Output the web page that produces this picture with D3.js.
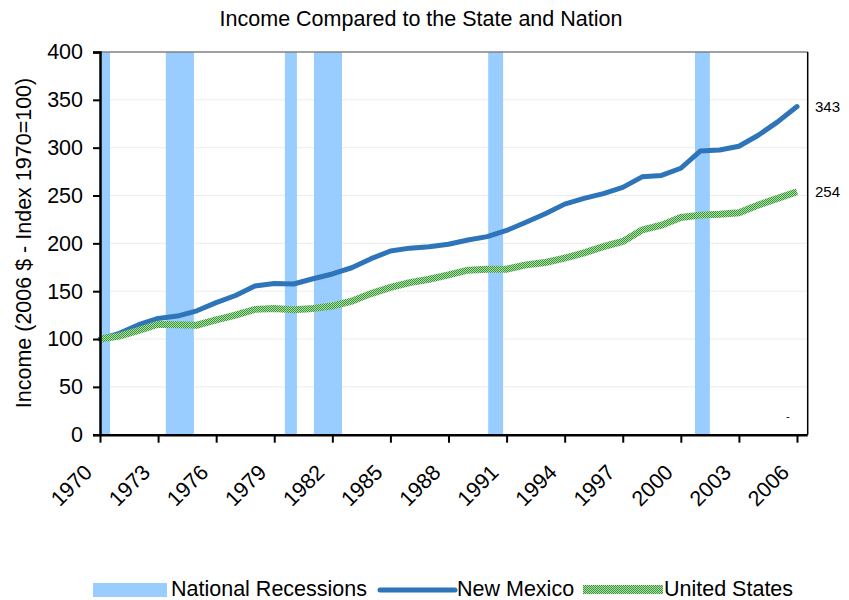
<!DOCTYPE html>
<html>
<head>
<meta charset="utf-8">
<script src="https://cdn.jsdelivr.net/npm/d3@7"></script>
<style>
  body { margin: 0; background: #fff; }
  text { font-family: "Liberation Sans", Arial, sans-serif; fill: #000; }
</style>
</head>
<body>
<svg id="chart" width="849" height="600"></svg>
<script>
// data
const years = d3.range(1970, 2007)
const newMexico = [100, 106, 115, 121.5, 124, 129.5, 138, 145.5, 155.5, 158, 157.5, 163, 168,
  174.5, 184, 192, 195, 196.5, 199, 203.5, 207, 213.5, 222, 231, 241,
  247, 252, 258.5, 269.5, 271, 278.5, 296.5, 297.5, 301.5, 313, 327, 343]
const unitedStates = [100, 103, 109, 115.5, 115, 114.5, 120, 125, 131, 132, 130.5, 132, 134.5,
  139.5, 147.5, 154, 159, 162.5, 167, 172, 173, 173, 177.5, 180, 184.5,
  190, 196.5, 202, 214, 219, 227, 229.5, 230.5, 232, 240, 247, 254]
const recStart = [1969.5, 1973.4, 1979.55, 1981.05, 1990.05, 2000.73]
const recEnd = [1970.52, 1974.85, 1980.17, 1982.5, 1990.82, 2001.5]
const yTicks = [0, 50, 100, 150, 200, 250, 300, 350, 400]
const xTicks = d3.range(1970, 2007, 3)

let svg = d3.select('#chart')
let pLeft = 100, pRight = 807.7, pTop = 52, pBottom = 434.7

let x = d3.scaleLinear().domain([1970, 2006]).range([pLeft, 797])
let y = d3.scaleLinear().domain([0, 400]).range([pBottom, pTop])

// checkered fill for the US line
let defs = svg.append('defs')
let pat = defs.append('pattern')
  .attr('id', 'usPat')
  .attr('patternUnits', 'userSpaceOnUse')
  .attr('width', 2).attr('height', 2)
pat.append('rect').attr('width', 2).attr('height', 2).attr('fill', '#b3deab')
pat.append('rect').attr('width', 1).attr('height', 1).attr('fill', '#359635')
pat.append('rect').attr('x', 1).attr('y', 1).attr('width', 1).attr('height', 1).attr('fill', '#359635')

defs.append('clipPath').attr('id', 'plotClip')
  .append('rect').attr('x', pLeft).attr('y', pTop).attr('width', pRight - pLeft).attr('height', pBottom - pTop)

// title
svg.append('text')
  .attr('x', 421).attr('y', 26)
  .attr('text-anchor', 'middle')
  .style('font-size', '21.5px')
  .text('Income Compared to the State and Nation')

// gridlines
svg.append('g')
  .selectAll('line')
  .data(yTicks.filter(d => d > 0 && d < 400))
  .enter().append('line')
  .attr('x1', pLeft).attr('x2', pRight)
  .attr('y1', d => y(d)).attr('y2', d => y(d))
  .attr('stroke', '#ececec').attr('stroke-width', 1)

// recessions
svg.append('g')
  .attr('clip-path', 'url(#plotClip)')
  .selectAll('rect')
  .data(recStart.map((s, i) => ({ s, e: recEnd[i] })))
  .enter().append('rect')
  .attr('x', d => x(d.s))
  .attr('width', d => x(d.e) - x(d.s))
  .attr('y', pTop)
  .attr('height', pBottom - pTop)
  .attr('fill', '#99ccff')

// frame
svg.append('line').attr('x1', pLeft).attr('x2', pRight).attr('y1', pTop).attr('y2', pTop)
  .attr('stroke', '#808080').attr('stroke-width', 1.5)
svg.append('line').attr('x1', pRight).attr('x2', pRight).attr('y1', pTop).attr('y2', pBottom)
  .attr('stroke', '#000').attr('stroke-width', 1.5)

let line = d3.line().x((d, i) => x(years[i])).y(d => y(d))

svg.append('path')
  .datum(newMexico)
  .attr('d', line)
  .attr('fill', 'none')
  .attr('stroke', '#2e74b8')
  .attr('stroke-width', 5)
  .attr('stroke-linejoin', 'round')
  .attr('stroke-linecap', 'round')

svg.append('path')
  .datum(unitedStates)
  .attr('d', line)
  .attr('fill', 'none')
  .attr('stroke', 'url(#usPat)')
  .attr('stroke-width', 7)

// axes
let yAxis = svg.append('g')
  .attr('transform', `translate(${pLeft},0)`)
  .call(d3.axisLeft(y).tickValues(yTicks).tickSize(7).tickPadding(10))
yAxis.select('.domain').attr('stroke', '#000').attr('stroke-width', 2.5)
yAxis.selectAll('.tick line').attr('stroke-width', 2)
yAxis.selectAll('.tick text').style('font-size', '21.5px').attr('font-family', null)

let xAxis = svg.append('g')
  .attr('transform', `translate(0,${pBottom})`)
  .call(d3.axisBottom(x).tickValues(xTicks).tickFormat(d3.format('d')).tickSize(8).tickSizeOuter(0))
xAxis.select('.domain').attr('stroke', '#000').attr('stroke-width', 2.5)
  .attr('d', `M${pLeft},0.5H${pRight}`)
xAxis.selectAll('.tick line').attr('stroke-width', 2)
xAxis.selectAll('.tick text')
  .style('font-size', '21.5px').attr('font-family', null)
  .attr('text-anchor', 'end')
  .attr('dy', null).attr('y', null)
  .attr('transform', 'translate(-7,39) rotate(-45)')

// y label
svg.append('text')
  .attr('transform', 'translate(31,243) rotate(-90)')
  .attr('text-anchor', 'middle')
  .style('font-size', '21.5px')
  .text('Income (2006 $ - Index 1970=100)')

// end labels
svg.append('text').attr('x', 815).attr('y', y(newMexico[newMexico.length - 1]) + 5)
  .style('font-size', '15px').text(newMexico[newMexico.length - 1])
svg.append('text').attr('x', 815).attr('y', y(unitedStates[unitedStates.length - 1]) + 5)
  .style('font-size', '15px').text(unitedStates[unitedStates.length - 1])
svg.append('text').attr('x', 786).attr('y', 420).style('font-size', '11px').text('-')

// legend
let lg = svg.append('g').attr('transform', 'translate(0,590)')
lg.append('rect').attr('x', 93).attr('y', -7).attr('width', 74).attr('height', 14).attr('fill', '#99ccff')
lg.append('text').attr('x', 171).attr('y', 6).style('font-size', '21.5px').text('National Recessions')
lg.append('line').attr('x1', 380).attr('x2', 455).attr('y1', 0).attr('y2', 0)
  .attr('stroke', '#2e74b8').attr('stroke-width', 5).attr('stroke-linecap', 'round')
lg.append('text').attr('x', 457).attr('y', 6).style('font-size', '21.5px').text('New Mexico')
lg.append('rect').attr('x', 583).attr('y', -5).attr('width', 80).attr('height', 9).attr('fill', 'url(#usPat)')
lg.append('text').attr('x', 664).attr('y', 6).style('font-size', '21.5px').text('United States')
</script>
</body>
</html>
